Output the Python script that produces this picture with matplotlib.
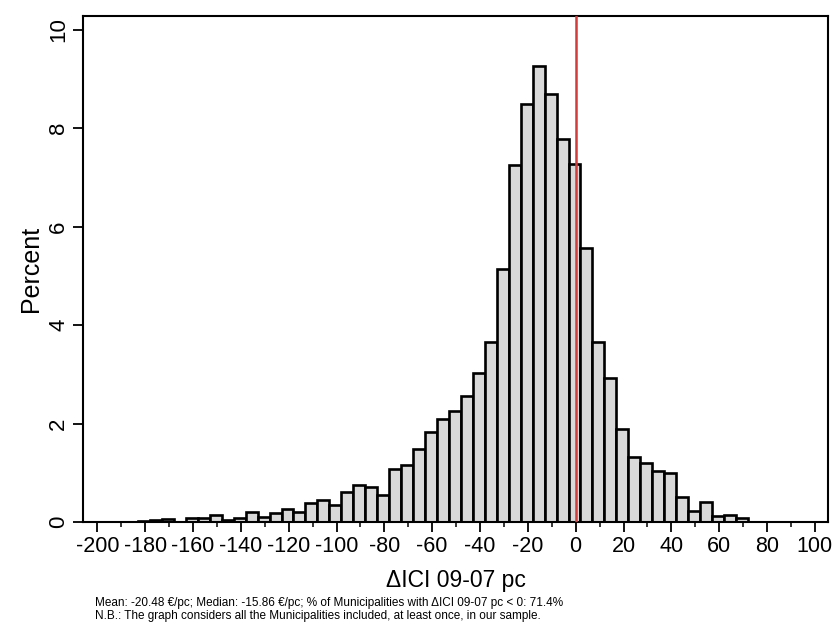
import matplotlib
matplotlib.use("Agg")
import matplotlib.pyplot as plt
import numpy as np

plt.rcParams['font.family'] = ['Liberation Sans', 'DejaVu Sans']

# Histogram data (percent per 5-unit bin), bins starting at -183
bin_start = -183
bin_width = 5
percent = [0.03, 0.05, 0.07, 0.01, 0.09, 0.08, 0.14, 0.05, 0.08, 0.21,
           0.10, 0.18, 0.27, 0.20, 0.39, 0.45, 0.35, 0.61, 0.75, 0.71,
           0.54, 1.07, 1.15, 1.48, 1.83, 2.10, 2.26, 2.56, 3.02, 3.66,
           5.15, 7.25, 8.49, 9.26, 8.69, 7.79, 7.27, 5.56, 3.65, 2.93,
           1.88, 1.32, 1.20, 1.04, 1.00, 0.51, 0.22, 0.40, 0.12, 0.15,
           0.08]
x_ticks = list(range(-200, 101, 20))
x_tick_labels = [str(t) for t in x_ticks]
y_ticks = [0, 2, 4, 6, 8, 10]
ref_line = 0
note1 = "Mean: -20.48 €/pc; Median: -15.86 €/pc; % of Municipalities with ΔICI 09-07 pc < 0: 71.4%"
note2 = "N.B.: The graph considers all the Municipalities included, at least once, in our sample."

edges = bin_start + bin_width * np.arange(len(percent))

fig = plt.figure(figsize=(8.35, 6.31), dpi=100)
ax = fig.add_axes([83/835, 1 - 522/631, (828-83)/835, (522-16)/631])

ax.bar(edges, percent, width=bin_width, align='edge', color='#d9d9d9',
       edgecolor='black', linewidth=1.9, zorder=2)
ax.axvline(ref_line, color='#d03c3c', linewidth=1.8, zorder=3)

ax.set_xlim(-206, 105.5)
ax.set_ylim(0, 10.28)

ax.set_xticks(x_ticks)
ax.set_xticklabels(x_tick_labels)
ax.set_xticks(list(range(-190, 101, 20)), minor=True)
ax.set_yticks(y_ticks)
ax.set_yticklabels([str(t) for t in y_ticks], rotation=90, va='center')

ax.tick_params(axis='x', which='major', direction='out', length=7, width=1.3,
               labelsize=15.5, color='black', pad=3)
ax.tick_params(axis='y', which='major', direction='out', length=7, width=1.3,
               labelsize=16, color='black', pad=3)
ax.tick_params(axis='x', which='minor', direction='out', length=3.5, width=1.1)

for s in ax.spines.values():
    s.set_linewidth(1.5)
    s.set_color('black')

ax.set_xlabel("ΔICI 09-07 pc", fontsize=16.5)
ax.xaxis.set_label_coords(0.5, (522 - 580) / 506)
ax.xaxis.label.set_verticalalignment('center')
ax.set_ylabel("Percent", fontsize=18)
ax.yaxis.set_label_coords((31 - 83) / 745, 0.5)
ax.yaxis.label.set_verticalalignment('center')

fig.text(95/835, 1 - 603/631, note1, fontsize=8.5, va='center', ha='left')
fig.text(95/835, 1 - 616/631, note2, fontsize=8.5, va='center', ha='left')

fig.savefig("out.png", dpi=100)
